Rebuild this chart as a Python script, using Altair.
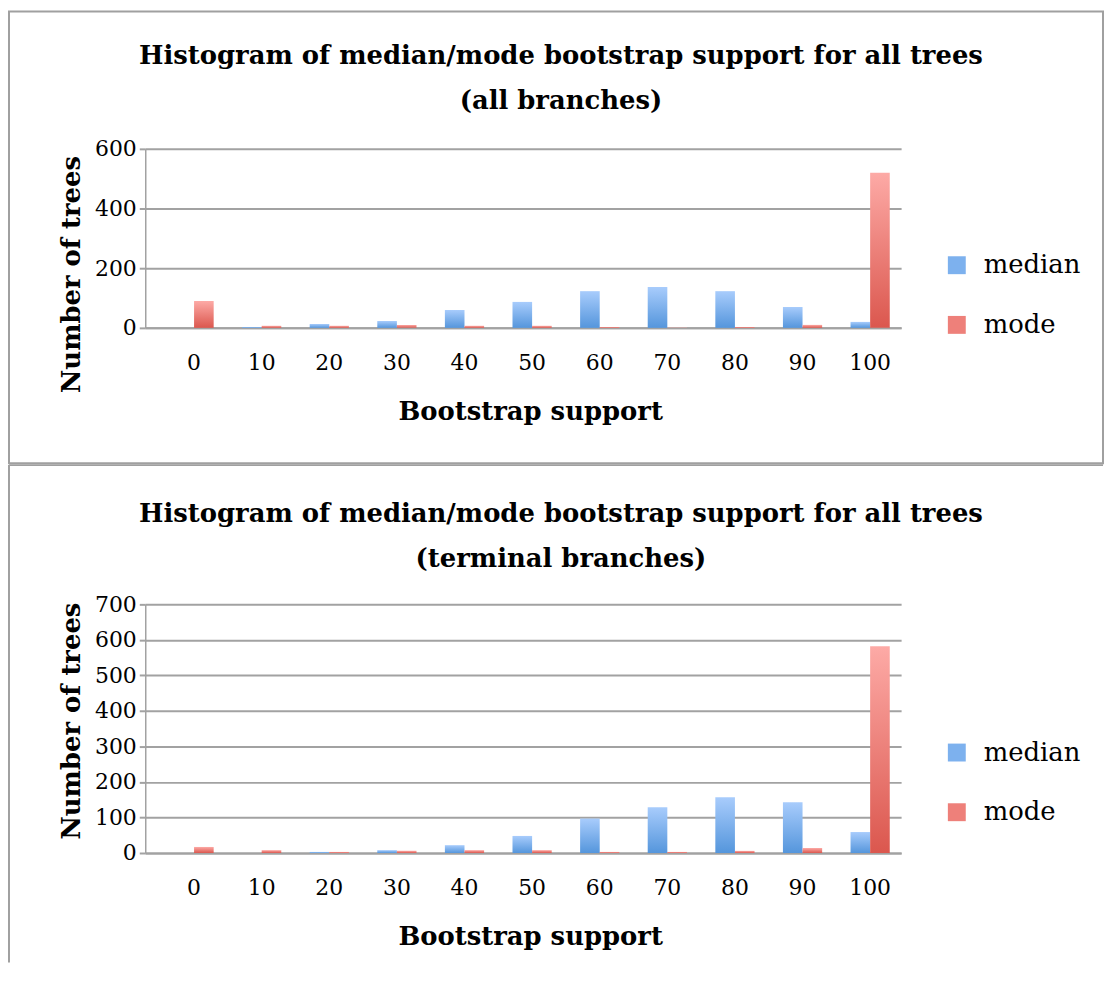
import altair as alt
import pandas as pd

bins = ["0", "10", "20", "30", "40", "50", "60", "70", "80", "90", "100"]
series_names = ["median", "mode"]

all_median = [0, 3, 13, 23, 60, 87, 123, 137, 123, 70, 20]
all_mode = [90, 7, 7, 10, 7, 7, 3, 1, 3, 10, 520]

term_median = [0, 0, 3, 8, 22, 48, 97, 129, 157, 143, 59]
term_mode = [17, 8, 3, 6, 8, 8, 3, 3, 6, 14, 582]

titles_top = ["Histogram of median/mode bootstrap support for all trees", "(all branches)"]
titles_bottom = ["Histogram of median/mode bootstrap support for all trees", "(terminal branches)"]

FONT = "DejaVu Serif"
GRID = "#a2a2a2"
BORDER = "#a0a0a0"

blue_grad = alt.Gradient(
    gradient="linear",
    stops=[alt.GradientStop(color="#5596dc", offset=0), alt.GradientStop(color="#a8ccfc", offset=1)],
    x1=0, x2=0, y1=1, y2=0,
)
red_grad = alt.Gradient(
    gradient="linear",
    stops=[alt.GradientStop(color="#db574e", offset=0), alt.GradientStop(color="#fdaaa6", offset=1)],
    x1=0, x2=0, y1=1, y2=0,
)


def long_df(med, mod):
    rows = []
    for b, v in zip(bins, med):
        rows.append({"bin": b, "series": "median", "value": v})
    for b, v in zip(bins, mod):
        rows.append({"bin": b, "series": "mode", "value": v})
    return pd.DataFrame(rows)


def panel(med, mod, title, ymax, ystep, height, leg_y, ytitle_y, top_border_y, bottom_kind, title_offset):
    df = long_df(med, mod)
    W = 760
    x = alt.X(
        "bin:N", sort=bins,
        scale=alt.Scale(paddingInner=0.42, paddingOuter=0.3, align=0.72),
        axis=alt.Axis(
            title="Bootstrap support", labelAngle=0, ticks=False, tickSize=0, labelPadding=25,
            domainColor=GRID, domainWidth=2, grid=False,
            labelFont=FONT, labelFontSize=22, labelColor="black",
            titleFont=FONT, titleFontSize=26, titleFontWeight="bold", titleColor="black",
            titleBaseline="alphabetic", titleY=92, titleX=387,
        ),
    )
    y = alt.Y(
        "value:Q",
        scale=alt.Scale(domain=[0, ymax], nice=False),
        axis=alt.Axis(
            title="Number of trees", values=list(range(0, ymax + 1, ystep)),
            tickSize=6, tickColor=GRID, tickWidth=2, labelPadding=3,
            domainColor=GRID, domainWidth=1.5,
            gridColor=GRID, gridWidth=2,
            labelFont=FONT, labelFontSize=22, labelColor="black",
            titleFont=FONT, titleFontSize=26, titleFontWeight="bold", titleColor="black",
            titleAngle=-90, titleAlign="center", titleBaseline="alphabetic",
            titleX=-66, titleY=ytitle_y,
        ),
    )
    xo = alt.XOffset("series:N", scale=alt.Scale(domain=series_names))

    base = alt.Chart(df)
    med_bars = base.transform_filter(alt.datum.series == "median").mark_bar(fill=blue_grad).encode(x=x, xOffset=xo, y=y)
    mod_bars = base.transform_filter(alt.datum.series == "mode").mark_bar(fill=red_grad).encode(x=x, xOffset=xo, y=y)
    legend_layer = base.mark_square(opacity=0).encode(
        x=x, xOffset=xo, y=y,
        color=alt.Color(
            "series:N",
            scale=alt.Scale(domain=series_names, range=["#7db1ee", "#ee807a"]),
            legend=alt.Legend(
                orient="none", legendX=803, legendY=leg_y, title=None,
                symbolType="square", symbolSize=324, symbolStrokeWidth=0, symbolOpacity=1,
                labelFont=FONT, labelFontSize=26, labelColor="black", labelOffset=14,
                rowPadding=34, padding=0,
            ),
        ),
    )

    one = alt.Data(values=[{"k": 1}])
    if bottom_kind == "box":
        border = alt.Chart(one).mark_rect(fill="transparent", stroke=BORDER, strokeWidth=2).encode(
            x=alt.value(-137), x2=alt.value(963), y=alt.value(top_border_y), y2=alt.value(height + 136)
        )
        layers = [border]
    else:
        left = alt.Chart(one).mark_rule(color=BORDER, strokeWidth=2).encode(
            x=alt.value(-137), y=alt.value(top_border_y), y2=alt.value(height + 110)
        )
        top = alt.Chart(one).mark_rule(color=BORDER, strokeWidth=2).encode(
            x=alt.value(-137), x2=alt.value(963), y=alt.value(top_border_y)
        )
        layers = [left, top]

    return alt.layer(*layers, med_bars, mod_bars, legend_layer).properties(
        width=W, height=height,
        title=alt.TitleParams(
            text=title, font=FONT, fontSize=26, fontWeight="bold", color="black",
            lineHeight=45, anchor="middle", dx=38, offset=title_offset, baseline="alphabetic",
        ),
    )


top_chart = panel(all_median, all_mode, titles_top, 600, 200, 180, 104, 126, -138, "box", -125)
bottom_chart = panel(term_median, term_mode, titles_bottom, 700, 100, 250, 136, 117, -140, "open", -129)

chart = alt.vconcat(top_chart, bottom_chart, spacing=0).resolve_scale(
    x="independent", y="independent", color="independent", xOffset="independent"
).resolve_legend(color="independent").properties(padding=0).configure_view(stroke=None)

chart.save("out.html", embed_options={"renderer": "svg", "actions": False})
